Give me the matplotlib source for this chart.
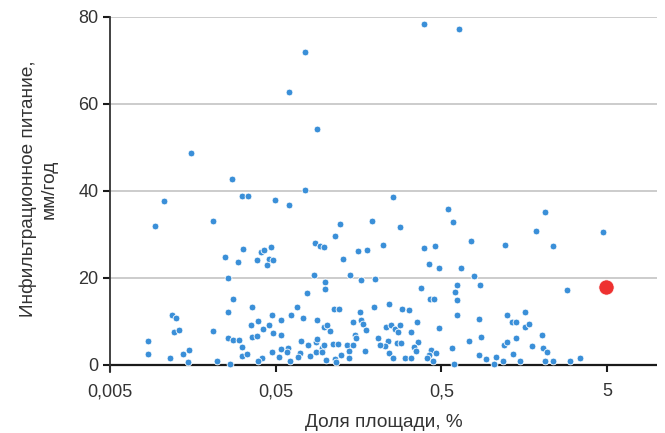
import numpy as np
import matplotlib
matplotlib.use("Agg")
import matplotlib.pyplot as plt

plt.rcParams['font.family'] = ['Liberation Sans', 'DejaVu Sans']

# доля площади, % (ось x, логарифмическая)
share = [
    0.0317, 0.0248, 0.0296, 0.0259, 0.0278, 0.0118, 0.0125, 0.0260, 0.0122, 0.0131,
    0.0209, 0.0258, 0.0276, 0.0302, 0.00852, 0.0316, 0.00852, 0.0115, 0.0139, 0.0150,
    0.0314, 0.0337, 0.0149, 0.0223, 0.0265, 0.0154, 0.0273, 0.0756, 0.01057, 0.0314,
    0.0341, 0.0498, 0.0606, 0.00943, 0.0209, 0.123, 0.191, 0.114, 0.0408, 0.0428,
    0.0467, 0.0860, 0.0930, 0.0983, 0.157, 0.177, 0.224, 0.257, 0.545, 2.107,
    0.588, 0.281, 1.871, 4.752, 0.392, 0.456, 0.753, 1.208, 2.343, 0.0756,
    0.0606, 0.0892, 0.392, 0.639, 0.422, 0.486, 0.659, 0.788, 0.198, 0.623,
    0.856, 0.377, 2.873, 0.601, 0.426, 0.452, 0.625, 0.241, 0.291, 0.319,
    0.621, 0.844, 1.237, 1.326, 1.406, 0.356, 0.232, 0.250, 0.262, 0.274,
    0.281, 0.326, 0.486, 0.872, 1.406, 0.237, 0.269, 0.284, 0.361, 0.736,
    0.228, 0.343, 1.197, 1.242, 0.354, 0.243, 0.436, 0.467, 0.576, 0.420,
    0.408, 1.349, 0.256, 0.300, 0.326, 0.444, 0.844, 0.930, 1.067, 1.171,
    1.493, 0.598, 1.043, 1.607, 1.599, 1.689, 2.021, 1.753, 2.061, 2.165,
    2.107, 2.343, 3.002, 3.413, 0.0386, 0.0454, 0.0482, 0.0442, 0.128, 0.0848,
    0.100, 0.0992, 0.141, 0.163, 0.0770, 0.0361, 0.0675, 0.113, 0.121, 0.162,
    0.197, 0.0473, 0.0621, 0.0390, 0.0538, 0.0736, 0.0884, 0.147, 0.164, 0.169,
    0.0354, 0.0456, 0.0422, 0.0979, 0.102, 0.106, 0.175, 0.0486, 0.0538, 0.0363,
    0.0386, 0.151, 0.153, 0.0709, 0.0876, 0.0892, 0.111, 0.119, 0.0788, 0.0956,
    0.0983, 0.134, 0.147, 0.208, 0.0596, 0.0536, 0.0478, 0.173, 0.213, 0.0872,
    0.0699, 0.0684, 0.0590, 0.0528, 0.0802, 0.0952, 0.139, 0.124, 0.138, 0.0414,
    0.0390, 0.0609, 0.1014, 0.114, 0.116,
]

# инфильтрационное питание, мм/год
recharge = [
    26.7, 24.7, 23.5, 19.9, 15.2, 11.3, 10.7, 12.0, 7.6, 8.0,
    7.8, 6.2, 5.7, 5.6, 5.4, 4.1, 2.5, 1.5, 2.4, 3.4,
    2.0, 2.5, 0.6, 0.8, 0.2, 48.7, 42.6, 40.2, 37.6, 38.7,
    38.7, 37.9, 36.6, 31.9, 33.0, 32.3, 33.0, 29.6, 25.9, 26.3,
    27.0, 27.9, 27.2, 27.1, 26.1, 26.3, 27.4, 38.6, 35.9, 35.1,
    32.7, 31.6, 30.7, 30.4, 26.8, 27.3, 28.4, 27.4, 27.2, 72.0,
    62.8, 54.1, 78.3, 77.3, 23.1, 22.3, 22.3, 20.3, 19.7, 18.4,
    18.3, 17.7, 17.1, 16.6, 15.1, 15.0, 14.9, 14.0, 12.8, 12.5,
    11.4, 10.5, 11.3, 9.8, 9.7, 9.7, 8.6, 9.2, 8.1, 7.5,
    9.1, 7.6, 8.5, 6.4, 6.1, 5.4, 5.0, 5.0, 5.1, 5.5,
    4.2, 4.1, 4.6, 5.2, 3.1, 2.7, 3.4, 2.6, 3.8, 2.2,
    1.5, 2.4, 1.6, 1.6, 1.6, 0.8, 2.2, 1.3, 1.7, 0.9,
    0.9, 0.1, 0.1, 12.0, 8.7, 9.3, 6.9, 4.2, 3.8, 2.9,
    0.9, 0.9, 0.9, 1.6, 24.0, 24.3, 24.1, 22.9, 24.3, 20.6,
    18.9, 17.5, 20.6, 19.4, 16.4, 13.2, 13.2, 12.7, 12.7, 12.1,
    13.2, 11.5, 11.4, 10.0, 10.3, 10.6, 10.2, 9.9, 10.3, 9.3,
    9.1, 9.1, 8.1, 8.7, 9.1, 7.7, 8.0, 7.3, 6.7, 6.4,
    6.5, 6.9, 6.1, 5.4, 5.3, 5.9, 4.8, 4.8, 4.5, 3.8,
    4.5, 4.5, 4.5, 6.0, 3.9, 3.5, 2.9, 3.1, 4.4, 3.0,
    2.6, 1.8, 2.8, 1.8, 2.0, 2.8, 3.1, 2.1, 1.5, 1.5,
    0.9, 0.9, 1.0, 1.2, 0.5,
]

# выделенная точка
highlight_share = [4.9]
highlight_recharge = [17.9]

x_ticks = [0.005, 0.05, 0.5, 5]
x_ticklabels = ['0,005', '0,05', '0,5', '5']
y_ticks = [0, 20, 40, 60, 80]

fig = plt.figure(figsize=(6.65, 4.33), dpi=100)
ax = fig.add_axes([0.165, 0.141, 0.823, 0.82])

ax.set_xscale('log')
ax.set_xlim(0.005, 10)
ax.set_ylim(-1.7, 80)

for yv in y_ticks[1:]:
    ax.axhline(yv, color='#c8c8c8', lw=1.3, zorder=1)
ax.axhline(0, color='#1a1a1a', lw=1.6, zorder=2)

ax.scatter(share, recharge, s=24, color='#3a8fd8', edgecolor='white',
           linewidth=0.6, zorder=5, clip_on=False)
ax.scatter(highlight_share, highlight_recharge, s=120, color='#ee3130',
           edgecolor='white', linewidth=0.5, zorder=6, clip_on=False)

ax.spines['top'].set_visible(False)
ax.spines['right'].set_visible(False)
ax.spines['bottom'].set_visible(False)
ax.spines['left'].set_color('#333333')
ax.spines['left'].set_linewidth(1.3)

ax.set_xticks(x_ticks)
ax.set_xticklabels(x_ticklabels)
ax.xaxis.set_minor_locator(matplotlib.ticker.NullLocator())
ax.set_yticks(y_ticks)

ax.tick_params(axis='x', direction='in', length=6, width=1.5, color='#1a1a1a',
               labelsize=13, labelcolor='#333333', pad=8)
ax.tick_params(axis='y', direction='out', length=5, width=1.5, color='#1a1a1a',
               labelsize=13, labelcolor='#333333', pad=3)

ax.set_xlabel('Доля площади, %', fontsize=13.7, color='#333333', labelpad=10)
ax.set_ylabel('Инфильтрационное питание,\nмм/год', fontsize=13.7,
              color='#333333', linespacing=1.3)
ax.yaxis.set_label_coords(-0.095, 0.515)

fig.savefig('out.png', dpi=100)
